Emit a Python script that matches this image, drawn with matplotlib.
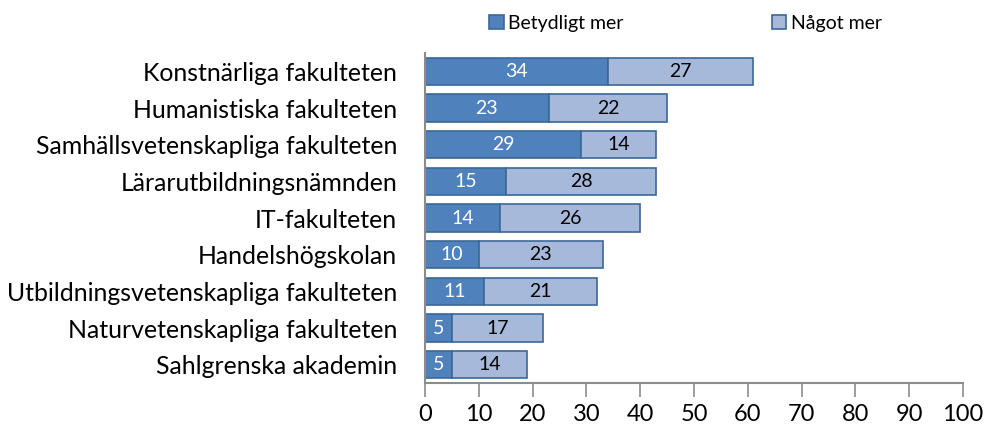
import matplotlib
matplotlib.use('Agg')
import matplotlib.pyplot as plt
import numpy as np

plt.rcParams['font.family'] = ['Lato', 'DejaVu Sans']

categories = ['Konstnärliga fakulteten', 'Humanistiska fakulteten',
              'Samhällsvetenskapliga fakulteten', 'Lärarutbildningsnämnden',
              'IT-fakulteten', 'Handelshögskolan',
              'Utbildningsvetenskapliga fakulteten',
              'Naturvetenskapliga fakulteten', 'Sahlgrenska akademin']
betydligt = [34, 23, 29, 15, 14, 10, 11, 5, 5]
nagot = [27, 22, 14, 28, 26, 23, 21, 17, 14]
xticks = [0, 10, 20, 30, 40, 50, 60, 70, 80, 90, 100]

dark = '#4F81BD'
light = '#A7B9DB'
edge = '#3C6898'

fig = plt.figure(figsize=(9.85, 4.3), dpi=100)
ax = fig.add_axes([0.4315, 0.1093, 0.5462, 0.7674])

y = np.arange(len(categories))
b1 = ax.barh(y, betydligt, height=0.74, color=dark, edgecolor=edge, linewidth=1.2, label='Betydligt mer')
b2 = ax.barh(y, nagot, left=betydligt, height=0.74, color=light, edgecolor=edge, linewidth=1.2, label='Något mer')

for i in range(len(categories)):
    ax.text(betydligt[i] / 2.0, y[i], str(betydligt[i]), ha='center', va='center',
            color='white', fontsize=14)
    ax.text(betydligt[i] + nagot[i] / 2.0, y[i], str(nagot[i]), ha='center', va='center',
            color='black', fontsize=14)

ax.set_ylim(len(categories) - 0.5, -0.5)
ax.set_xlim(0, 100)
ax.set_yticks(y)
ax.set_yticklabels(categories, fontsize=17.9)
ax.set_xticks(xticks)
ax.set_xticklabels([str(t) for t in xticks], fontsize=17)

for s in ['top', 'right']:
    ax.spines[s].set_visible(False)
ax.spines['left'].set_color('#8C8C8C')
ax.spines['bottom'].set_color('#8C8C8C')
ax.spines['left'].set_linewidth(1.5)
ax.spines['bottom'].set_linewidth(1.5)
ax.tick_params(axis='y', length=0, pad=20)
ax.tick_params(axis='x', length=10, width=1.2, color='#8C8C8C', pad=5)

leg = fig.legend(handles=[b1, b2], loc='center', bbox_to_anchor=(0.696, 0.946), ncol=2,
                 frameon=False, fontsize=14, handlelength=0.75, handleheight=0.75,
                 handletextpad=0.25, columnspacing=7.6)

fig.savefig('out.png', dpi=100)
